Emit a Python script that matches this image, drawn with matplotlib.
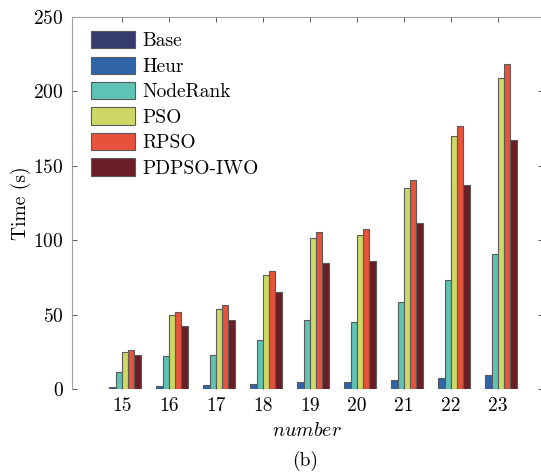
import numpy as np
import matplotlib
matplotlib.use("Agg")
import matplotlib.pyplot as plt

plt.rcParams["font.family"] = ["cmr10", "DejaVu Serif"]
plt.rcParams["mathtext.fontset"] = "cm"
plt.rcParams["axes.formatter.use_mathtext"] = True

# data
numbers = [15, 16, 17, 18, 19, 20, 21, 22, 23]
base = [0.2, 0.2, 0.2, 0.2, 0.2, 0.2, 0.2, 0.2, 0.2]
heur = [1.5, 2.2, 2.4, 3.4, 4.7, 4.7, 6.0, 7.6, 9.4]
noderank = [11.2, 22.2, 22.8, 32.9, 46.6, 44.8, 58.2, 73.5, 90.5]
pso = [24.9, 49.5, 53.8, 76.6, 101.3, 103.5, 135.1, 169.8, 209.2]
rpso = [26.2, 51.5, 56.7, 79.1, 105.3, 107.5, 140.7, 176.7, 218.2]
pdpso_iwo = [22.8, 42.5, 46.6, 65.0, 84.5, 85.8, 111.6, 137.3, 167.5]

series = [base, heur, noderank, pso, rpso, pdpso_iwo]
names = ["Base", "Heur", "NodeRank", "PSO", "RPSO", "PDPSO-IWO"]
colors = ["#363b6e", "#2f65a8", "#5ec2b4", "#cdd964", "#e6523a", "#6a1e25"]

FS = 14

fig = plt.figure(figsize=(5.41, 4.72), dpi=100)
ax = fig.add_axes([72 / 541, 83 / 472, 471 / 541, 372 / 472])

x = np.array(numbers, dtype=float)
n = len(series)
w = 0.8 / n
for i, (vals, name, c) in enumerate(zip(series, names, colors)):
    ax.bar(x + (i - (n - 1) / 2) * w, vals, width=w, color=c,
           edgecolor="#5a5a5a", linewidth=0.8, label=name)

ax.set_xlim(13.94, 23.96)
ax.set_ylim(0, 250)
ax.set_yticks(np.arange(0, 251, 50))
ax.set_xticks(x)
ax.set_xticklabels([str(v) for v in numbers])

for side in ["left", "top", "right"]:
    ax.spines[side].set_color("#a0a0a0")
    ax.spines[side].set_linewidth(0.8)
ax.spines["bottom"].set_visible(False)
ax.tick_params(direction="in", length=3.5, width=0.7, color="#555555",
               top=True, right=True, labelsize=FS)
ax.tick_params(axis="y", pad=6)
ax.tick_params(axis="x", pad=6)

ax.set_ylabel("Time (s)", fontsize=FS, labelpad=1.5)
ax.set_xlabel(r"$number$", fontsize=FS + 0.5, labelpad=5)
fig.text(305 / 541, 1 - 461 / 472, "(b)", ha="center", va="center", fontsize=FS)

leg = ax.legend(loc="upper left", frameon=False, fontsize=FS,
                handlelength=2.27, handleheight=0.98, labelspacing=0.32,
                handletextpad=0.36, borderaxespad=0.58,
                bbox_to_anchor=(0.0, 1.0 + 5 / 372))

fig.savefig("out.png", dpi=100)
